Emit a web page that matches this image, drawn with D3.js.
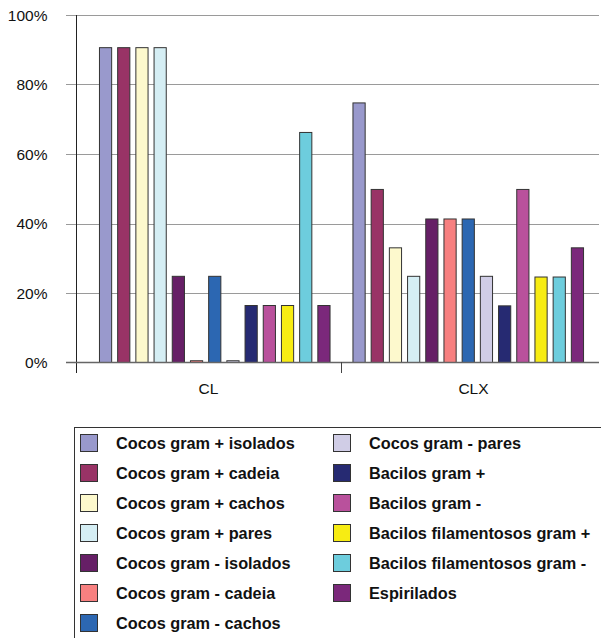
<!DOCTYPE html>
<html><head><meta charset="utf-8">
<script src="https://cdn.jsdelivr.net/npm/d3@7"></script>
<style>body{margin:0;background:#fff}svg{display:block}</style>
</head><body>
<div id="chart"></div>
<script>
const categories = ["CL", "CLX"];
const seriesNames = [
  "Cocos gram + isolados", "Cocos gram + cadeia", "Cocos gram + cachos", "Cocos gram + pares",
  "Cocos gram - isolados", "Cocos gram - cadeia", "Cocos gram - cachos", "Cocos gram - pares",
  "Bacilos gram +", "Bacilos gram -", "Bacilos filamentosos gram +", "Bacilos filamentosos gram -",
  "Espirilados"
];
const seriesColors = [
  "#9999cc", "#993366", "#fdf9cd", "#d5eef4",
  "#661f66", "#f78080", "#2c67b2", "#d0cde6",
  "#262a72", "#b9519c", "#f7ec13", "#6dcddd",
  "#7b287b"
];
const valuesCL  = [90.6, 90.6, 90.6, 90.6, 24.8, 0.5, 24.8, 0.5, 16.4, 16.4, 16.4, 66.2, 16.4];
const valuesCLX = [74.7, 49.8, 33.0, 24.8, 41.3, 41.3, 41.3, 24.8, 16.3, 49.8, 24.6, 24.6, 33.0];
const yTicks = [0, 20, 40, 60, 80, 100];

const W = 601, H = 638;
const FONT = "Arial, 'Liberation Sans', sans-serif";
const svg = d3.select("#chart").append("svg").attr("width", W).attr("height", H)
  .style("font-family", FONT);

const y = d3.scaleLinear().domain([0, 100]).range([362.5, 15]);
const xAxisScale = d3.scaleBand().domain(categories).range([76, 606]);
const x0 = d3.scaleBand().domain(categories).range([88, 595]);
const x1 = d3.scaleBand().domain(d3.range(seriesNames.length)).range([0, x0.bandwidth()])
  .paddingInner(0.33).paddingOuter(0.63);

// gridlines
svg.append("g").selectAll("line").data(yTicks.filter(t => t > 0)).join("line")
  .attr("x1", 66).attr("x2", 599).attr("y1", d => Math.round(y(d)) + 0.5).attr("y2", d => Math.round(y(d)) + 0.5)
  .attr("stroke", "#9a9a9a").attr("stroke-width", 1.2);

// y labels
svg.append("g").selectAll("text").data(yTicks).join("text")
  .attr("x", 47.5).attr("y", d => y(d)).attr("dy", "0.36em").attr("text-anchor", "end")
  .attr("font-size", "15.5px").attr("fill", "#111").text(d => d + "%");

// bars
const data = [valuesCL, valuesCLX];
const groups = svg.append("g").selectAll("g").data(categories).join("g")
  .attr("transform", d => `translate(${x0(d)},0)`);
groups.selectAll("rect").data((c, ci) => data[ci].map((v, i) => ({v, i}))).join("rect")
  .attr("x", d => x1(d.i)).attr("width", x1.bandwidth())
  .attr("y", d => y(d.v)).attr("height", d => y(0) - y(d.v))
  .attr("fill", d => seriesColors[d.i]).attr("stroke", "#333").attr("stroke-width", 1);

// y axis line and zero line
svg.append("line").attr("x1", 76.5).attr("x2", 76.5).attr("y1", 15).attr("y2", 373)
  .attr("stroke", "#222").attr("stroke-width", 1);
svg.append("line").attr("x1", 66).attr("x2", 599).attr("y1", 362.5).attr("y2", 362.5)
  .attr("stroke", "#666").attr("stroke-width", 1.5);

// category axis ticks (boundaries) and labels
const xAxis = d3.axisBottom(xAxisScale).tickSize(0).tickPadding(0);
const gx = svg.append("g").attr("transform", "translate(0,362.5)").call(xAxis);
gx.select(".domain").remove();
gx.selectAll("text").attr("y", 20.5).attr("font-size", "15.5px").attr("fill", "#111")
  .style("font-family", FONT);
svg.append("line").attr("x1", xAxisScale("CLX") + 0.5).attr("x2", xAxisScale("CLX") + 0.5)
  .attr("y1", 362).attr("y2", 373).attr("stroke", "#444").attr("stroke-width", 1);

// legend
const leg = svg.append("g");
leg.append("rect").attr("x", 74.5).attr("y", 427.5).attr("width", 540).attr("height", 230)
  .attr("fill", "none").attr("stroke", "#333").attr("stroke-width", 1);
const items = leg.selectAll("g.item").data(seriesNames).join("g").attr("class", "item")
  .attr("transform", (d, i) => {
    const col = i < 7 ? 0 : 1, row = i < 7 ? i : i - 7;
    return `translate(${col ? 333 : 80},${443 + row * 30})`;
  });
items.append("rect").attr("x", 0.5).attr("y", -8.5).attr("width", 17).attr("height", 17)
  .attr("fill", (d, i) => seriesColors[i]).attr("stroke", "#333").attr("stroke-width", 1);
items.append("text").attr("x", 36).attr("y", 0).attr("dy", "0.36em")
  .attr("font-size", "16.3px").attr("font-weight", "bold").attr("fill", "#111").text(d => d);
</script>
</body></html>
